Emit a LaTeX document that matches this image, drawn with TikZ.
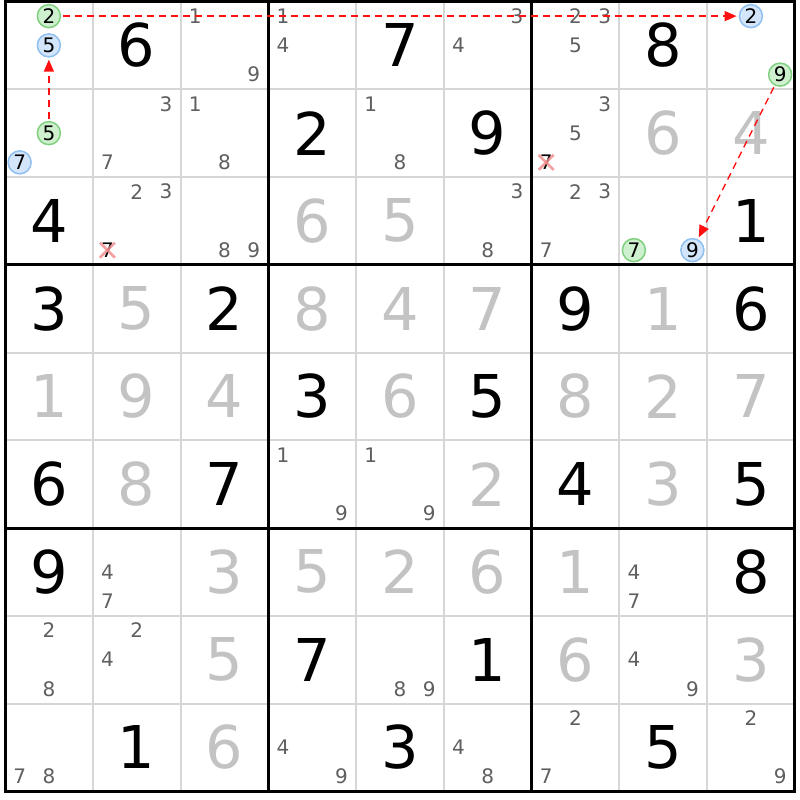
\documentclass[tikz,border=0pt]{standalone}
\usepackage{fontspec}
\setmainfont{DejaVu Sans}
\usetikzlibrary{arrows.meta}
\definecolor{givenc}{HTML}{000000}
\definecolor{solvedc}{HTML}{C3C3C3}
\definecolor{candc}{HTML}{5F5F5F}
\definecolor{thinc}{HTML}{D6D6D6}
\definecolor{greenfill}{HTML}{CFF0CF}
\definecolor{greenline}{HTML}{80D080}
\definecolor{bluefill}{HTML}{D2E5FB}
\definecolor{blueline}{HTML}{90C0F0}
\definecolor{linkred}{HTML}{FF1010}
\definecolor{crossc}{HTML}{F08A8A}
\newcommand\bigdigitfont{\fontsize{59}{60}\selectfont}
\newcommand\smalldigitfont{\fontsize{20}{22}\selectfont}
\tikzset{
  thinline/.style={thinc, line width=2pt},
  boxline/.style={black, line width=3pt},
  bigdigit/.style={inner sep=0pt, anchor=center, font=\bigdigitfont},
  givendigit/.style={bigdigit, text=givenc},
  solveddigit/.style={bigdigit, text=solvedc},
  candidate/.style={inner sep=0pt, anchor=center, font=\smalldigitfont, text=candc},
  struck/.style={candidate, text=black},
  greenmark/.style={candidate, text=black, circle, draw=greenline, fill=greenfill, line width=1.5pt, minimum size=23pt},
  bluemark/.style={candidate, text=black, circle, draw=blueline, fill=bluefill, line width=1.5pt, minimum size=23pt},
  link/.style={linkred, line width=1.3pt, dash pattern=on 7pt off 5pt, -{Triangle[length=12pt,width=10pt]}, shorten >=2pt, shorten <=2pt},
  cross/.style={crossc, line width=2.5pt, opacity=0.8}
}
\begin{document}
\begin{tikzpicture}[x=1pt,y=-1pt]
\def\s{87.75}
\useasboundingbox (0,0) rectangle (800,800);
\fill[white] (0,0) rectangle (800,800);
% thin grid lines
\foreach \i in {1,2,4,5,7,8} {
  \draw[thinline] ({5+\i*\s},1.5) -- ({5+\i*\s},791.25);
  \draw[thinline] (5,{1.5+\i*\s}) -- (794.75,{1.5+\i*\s});
}
% box lines
\foreach \i in {3,6} {
  \draw[boxline] ({5+\i*\s},1.5) -- ({5+\i*\s},791.25);
  \draw[boxline] (5,{1.5+\i*\s}) -- (794.75,{1.5+\i*\s});
}
\draw[boxline] (5,1.5) rectangle (794.75,791.25);
% given digits
\foreach \r/\c/\d in {1/2/6,1/5/7,1/8/8,2/4/2,2/6/9,3/1/4,3/9/1,4/1/3,4/3/2,4/7/9,4/9/6,5/4/3,5/6/5,6/1/6,6/3/7,6/7/4,6/9/5,7/1/9,7/9/8,8/4/7,8/6/1,9/2/1,9/5/3,9/8/5}
  \node[givendigit] (g\r\c) at ({5+(\c-0.5)*\s},{1.5+(\r-0.5)*\s}) {\d};
% solved digits
\foreach \r/\c/\d in {2/8/6,2/9/4,3/4/6,3/5/5,4/2/5,4/4/8,4/5/4,4/6/7,4/8/1,5/1/1,5/2/9,5/3/4,5/5/6,5/7/8,5/8/2,5/9/7,6/2/8,6/6/2,6/8/3,7/3/3,7/4/5,7/5/2,7/6/6,7/7/1,8/3/5,8/7/6,8/9/3,9/3/6}
  \node[solveddigit] (v\r\c) at ({5+(\c-0.5)*\s},{1.5+(\r-0.5)*\s}) {\d};
% candidates
\foreach \r/\c/\d/\st in {1/3/1/candidate,1/3/9/candidate,1/4/1/candidate,1/4/4/candidate,1/6/3/candidate,1/6/4/candidate,1/7/2/candidate,1/7/3/candidate,1/7/5/candidate,
  2/2/3/candidate,2/2/7/candidate,2/3/1/candidate,2/3/8/candidate,2/5/1/candidate,2/5/8/candidate,2/7/3/candidate,2/7/5/candidate,2/7/7/struck,
  3/2/2/candidate,3/2/3/candidate,3/2/7/struck,3/3/8/candidate,3/3/9/candidate,3/6/3/candidate,3/6/8/candidate,3/7/2/candidate,3/7/3/candidate,3/7/7/candidate,
  6/4/1/candidate,6/4/9/candidate,6/5/1/candidate,6/5/9/candidate,
  7/2/4/candidate,7/2/7/candidate,7/8/4/candidate,7/8/7/candidate,
  8/1/2/candidate,8/1/8/candidate,8/2/2/candidate,8/2/4/candidate,8/5/8/candidate,8/5/9/candidate,8/8/4/candidate,8/8/9/candidate,
  9/1/7/candidate,9/1/8/candidate,9/4/4/candidate,9/4/9/candidate,9/6/4/candidate,9/6/8/candidate,9/7/2/candidate,9/7/7/candidate,9/9/2/candidate,9/9/9/candidate,
  1/1/2/greenmark,1/1/5/bluemark,2/1/5/greenmark,2/1/7/bluemark,1/9/2/bluemark,1/9/9/greenmark,3/8/7/greenmark,3/8/9/bluemark} {
  \pgfmathtruncatemacro\sj{mod(\d-1,3)}
  \pgfmathtruncatemacro\si{div(\d-1,3)}
  \node[\st] (k\r\c\d) at ({5+(\c-1)*\s+(\sj+0.5)*\s/3},{1.5+(\r-1)*\s+(\si+0.5)*\s/3}) {\d};
}
% eliminations
\foreach \n in {k277,k327} {
  \draw[cross] ([shift={(-7.5,-7.5)}]\n.center) -- ([shift={(7.5,7.5)}]\n.center);
  \draw[cross] ([shift={(-7.5,7.5)}]\n.center) -- ([shift={(7.5,-7.5)}]\n.center);
}
% links
\draw[link] (k112) -- (k192);
\draw[link] (k215) -- (k115);
\draw[link] (k199) -- (k389);
\end{tikzpicture}
\end{document}
